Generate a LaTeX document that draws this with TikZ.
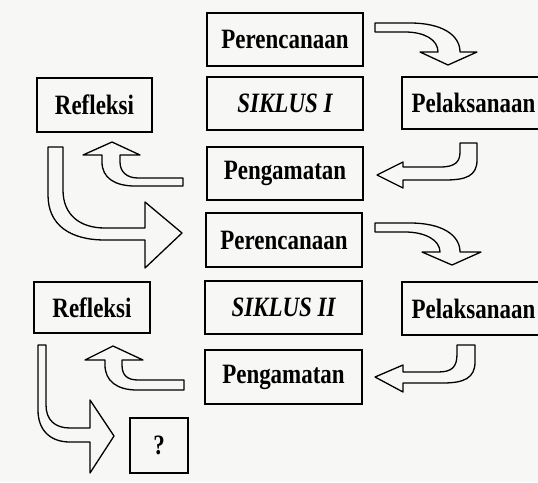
\documentclass[tikz,border=0pt]{standalone}
\usepackage{fontspec}
\setmainfont{Liberation Serif}[FakeStretch=0.82]
\definecolor{paper}{RGB}{247,247,245}
\begin{document}
\begin{tikzpicture}[x=1pt,y=-1pt,
  box/.style={draw, line width=1.5pt, inner sep=0pt, fill=paper,
    font=\fontsize{28}{32}\selectfont\bfseries},
  barrow/.style={draw, line width=1.3pt, fill=paper, line join=round}]
\clip (0,0) rectangle (538,482);
\fill[paper] (0,0) rectangle (538,482);
% cycle I
\node[box, minimum width=156pt, minimum height=53pt] (p1) at (285,39.5) {Perencanaan};
\node[box, minimum width=156pt, minimum height=53pt] (s1) at (285,103.5) {\itshape SIKLUS I};
\node[box, minimum width=115pt, minimum height=54pt] (r1) at (94.5,105) {Refleksi};
\node[box, minimum width=143pt, minimum height=52pt] (l1) at (473.5,103) {Pelaksanaan};
\node[box, minimum width=156pt, minimum height=53pt] (g1) at (285,173.5) {Pengamatan};
% cycle II
\node[box, minimum width=156pt, minimum height=54pt] (p2) at (284,240) {Perencanaan};
\node[box, minimum width=157pt, minimum height=53pt] (s2) at (283.5,307.5) {\itshape SIKLUS II};
\node[box, minimum width=116pt, minimum height=51pt] (r2) at (92,307.5) {Refleksi};
\node[box, minimum width=143pt, minimum height=53pt] (l2) at (473.5,308.5) {Pelaksanaan};
\node[box, minimum width=157pt, minimum height=54pt] (g2) at (283.5,377) {Pengamatan};
\node[box, minimum width=58pt, minimum height=55pt] (q) at (159,445.5) {?};
% block arrows, cycle I
\draw[barrow] (375,23) -- (410,23) .. controls (442,23) and (460,35) .. (460,52)
  -- (477,52) -- (448,65) -- (420,52) -- (438,52)
  .. controls (438,40) and (425,32) .. (405,32) -- (375,32) -- cycle;
\draw[barrow] (460,143) -- (477,143) -- (477,160) .. controls (477,176) and (466,180) .. (445,180)
  -- (403,180) -- (403,188) -- (377,175) -- (403,162) -- (403,167) -- (440,167)
  .. controls (455,167) and (460,162) .. (460,152) -- cycle;
\draw[barrow] (183,178) -- (138,178) .. controls (127,178) and (120,172) .. (120,162)
  -- (120,155) -- (140,155) -- (112,142) -- (83,155) -- (102,155) -- (102,162)
  .. controls (102,178) and (115,186) .. (135,186) -- (183,186) -- cycle;
\draw[barrow] (48,147) -- (63,147) -- (63,190) .. controls (63,215) and (80,228) .. (105,228)
  -- (145,228) -- (145,202) -- (182,233) -- (145,268) -- (145,240) -- (105,240)
  .. controls (70,240) and (48,225) .. (48,195) -- cycle;
% block arrows, cycle II
\begin{scope}[yshift=-200pt]
\draw[barrow] (375,23) -- (410,23) .. controls (442,23) and (460,35) .. (460,52)
  -- (481,52) -- (452,65) -- (422,52) -- (440,52)
  .. controls (440,40) and (425,32) .. (405,32) -- (375,32) -- cycle;
\end{scope}
\begin{scope}[yshift=-202pt]
\draw[barrow] (457,143) -- (475,143) -- (475,160) .. controls (475,176) and (464,181) .. (443,181)
  -- (403,181) -- (403,190) -- (375,175) -- (403,163) -- (403,170) -- (438,170)
  .. controls (452,170) and (457,165) .. (457,152) -- cycle;
\end{scope}
\begin{scope}[yshift=-203pt]
\draw[barrow] (184,177) -- (138,177) .. controls (127,177) and (122,172) .. (122,162)
  -- (122,157) -- (143,157) -- (113,143) -- (85,157) -- (105,157) -- (105,162)
  .. controls (105,178) and (117,187) .. (137,187) -- (184,187) -- cycle;
\end{scope}
\draw[barrow] (38,345) -- (46,345) -- (46,405) .. controls (46,420) and (55,428) .. (70,428)
  -- (90,428) -- (90,400) -- (114,436) -- (90,473) -- (90,442) -- (70,442)
  .. controls (50,442) and (38,430) .. (38,410) -- cycle;
\end{tikzpicture}
\end{document}
